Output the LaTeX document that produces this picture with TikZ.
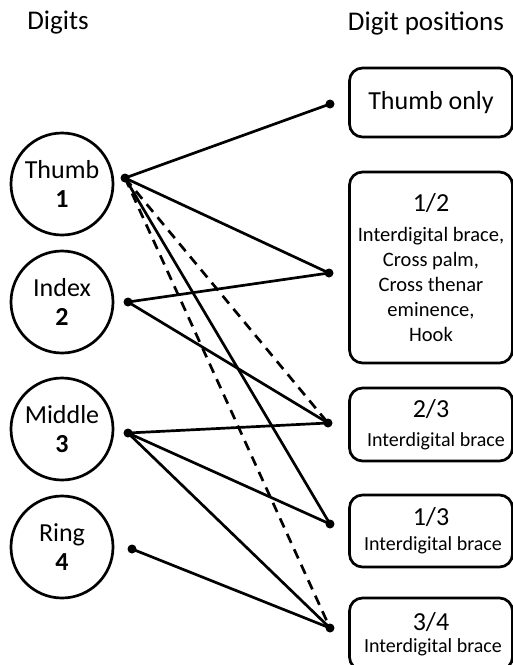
\documentclass[tikz,border=0pt]{standalone}
\usepackage{fontspec}
\setmainfont{Carlito}
\begin{document}
\begin{tikzpicture}[x=1pt,y=-1pt,
  lw/.style={line width=2.7pt},
  digit/.style={circle,draw,lw,minimum size=102pt,inner sep=0pt,align=center,
    font=\fontsize{26}{29}\selectfont},
  posbox/.style={draw,lw,rounded corners=13pt,minimum width=163pt,inner sep=0pt,align=center,
    font=\fontsize{20}{25}\selectfont},
  dot/.style={circle,fill=black,minimum size=9pt,inner sep=0pt},
  conn/.style={lw},
  dconn/.style={lw,dash pattern=on 10pt off 7pt},
  title/.style={font=\fontsize{27}{30}\selectfont,inner sep=0pt}
]
\useasboundingbox (0,0) rectangle (513,665);
\clip (0,0) rectangle (513,665);
% titles
\node[title] (hd) at (58,23) {Digits};
\node[title] (hp) at (426,23) {Digit positions};
% digits
\node[digit] (thumb) at (62,184) {Thumb\\\textbf{1}};
\node[digit] (index) at (62,302) {Index\\\textbf{2}};
\node[digit] (middle) at (62,429) {Middle\\\textbf{3}};
\node[digit] (ring) at (62,547) {Ring\\\textbf{4}};
% positions
\node[posbox,minimum height=69pt,font=\fontsize{26}{29}\selectfont] (p1) at (431,102.5) {Thumb only};
\node[posbox,minimum height=191pt,font=\fontsize{20.5}{25}\selectfont] (p12) at (431,267.5)
  {{\fontsize{26}{29}\selectfont 1/2}\\[5pt]
   Interdigital brace,\\Cross palm,\\Cross thenar\\eminence,\\Hook};
\node[posbox,minimum height=73pt] (p23) at (431,424.5)
  {{\fontsize{26}{27}\selectfont 2/3}\\[4pt]\hspace*{10pt}Interdigital brace};
\node[posbox,minimum height=72pt] (p13) at (431,531)
  {{\fontsize{26}{27}\selectfont 1/3}\\\hspace*{4pt}Interdigital brace};
\node[posbox,minimum height=72pt] (p34) at (431,634)
  {{\fontsize{26}{27}\selectfont 3/4}\\[-3pt]\hspace*{4pt}Interdigital brace};
% dots
\node[dot] (dt) at (125,178) {};
\node[dot] (di) at (128,302) {};
\node[dot] (dm) at (128,433) {};
\node[dot] (dr) at (132,549) {};
\node[dot] (e1) at (330,104) {};
\node[dot] (e12) at (329,273) {};
\node[dot] (e23) at (328,423) {};
\node[dot] (e13) at (330,524) {};
\node[dot] (e34) at (330,628) {};
% connectors
\draw[conn] (dt.center) -- (e1.center);
\draw[conn] (dt.center) -- (e12.center);
\draw[dconn] (dt.center) -- (e23.center);
\draw[conn] (dt.center) -- (e13.center);
\draw[dconn] (dt.center) -- (e34.center);
\draw[conn] (di.center) -- (e12.center);
\draw[conn] (di.center) -- (e23.center);
\draw[conn] (dm.center) -- (e23.center);
\draw[conn] (dm.center) -- (e13.center);
\draw[conn] (dm.center) -- (e34.center);
\draw[conn] (dr.center) -- (e34.center);
\end{tikzpicture}
\end{document}
